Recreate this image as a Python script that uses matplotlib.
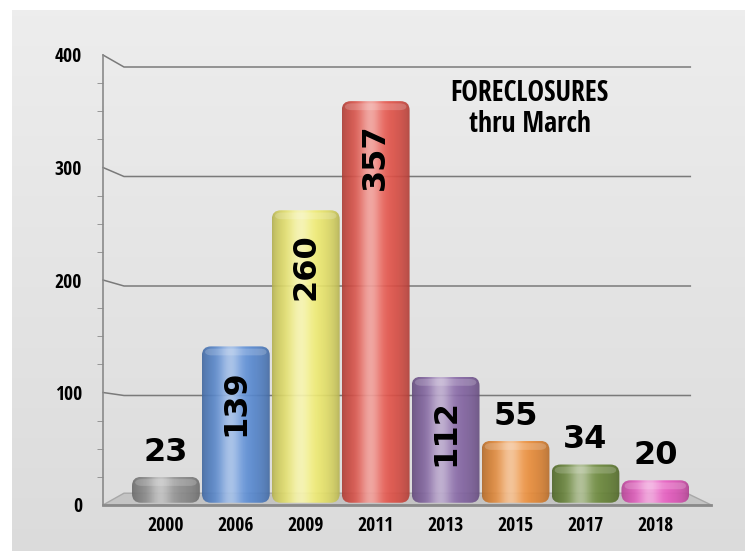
import numpy as np
import matplotlib
matplotlib.use("Agg")
import matplotlib.pyplot as plt
from matplotlib.patches import FancyBboxPatch, Polygon
from matplotlib.colors import to_rgb

years = ["2000", "2006", "2009", "2011", "2013", "2015", "2017", "2018"]
counts = [23, 139, 260, 357, 112, 55, 34, 20]
colors = ["#909090", "#5b8ed8", "#f2ee70", "#e8544a", "#8868a8", "#f0903a", "#6c8a3a", "#ec5cc4"]
inside = [False, True, True, True, True, False, False, False]
yticks = [0, 100, 200, 300, 400]
title = "FORECLOSURES\nthru March"

COND = ["Open Sans Condensed", "Roboto Condensed", "DejaVu Sans"]

W, H = 745, 551
fig = plt.figure(figsize=(W / 100, H / 100), dpi=100, facecolor="white")

# background panel with soft gradient
bg = fig.add_axes([12 / W, 0, 1 - 12 / W, (H - 10) / H])
bg.set_axis_off()
g = np.linspace(0.93, 0.86, 256)[:, None] * np.ones((1, 4))
bg.imshow(np.dstack([g, g, g]), aspect="auto", extent=[0, 1, 0, 1])
bg.set_xlim(0, 1)
bg.set_ylim(0, 1)

ax = fig.add_axes([103 / W, (H - 505) / H, 602 / W, 450 / H])
ax.set_facecolor("none")
ax.set_xlim(-0.9, 7.71)
ax.set_ylim(0, 400)
for s in ["top", "right", "bottom"]:
    ax.spines[s].set_visible(False)
ax.spines["left"].set_color("#8a8a8a")
ax.spines["left"].set_linewidth(1.2)

# back wall gridlines with short diagonal stub from the axis
for v in yticks[1:]:
    off = 12 * v / 400
    y1 = v - off / 1.125
    ax.plot([-0.9, -0.6, 7.5], [v, y1, y1], color="#7a7a7a", lw=1.1, zorder=1,
            clip_on=False)

# floor
floor = Polygon([[-0.9, 0], [-0.6, 10.5], [7.45, 10.5], [7.8, 0]], closed=True,
                facecolor="#c4c4c4", edgecolor="#a8a8a8", lw=1, zorder=1, clip_on=False)
ax.add_patch(floor)
ax.plot([-0.9, 7.8], [0, 0], color="#8a8a8a", lw=2, zorder=1, clip_on=False)

x = np.arange(len(years))
bars = ax.bar(x, counts, width=0.97, bottom=2, color="none", edgecolor="none", zorder=2)

prof = np.linspace(0, 1, 200)
dark = 0.72 + 0.28 * np.sin(np.pi * prof) ** 0.6
glow = 0.45 * np.exp(-((prof - 0.42) / 0.16) ** 2)
for rect, c in zip(bars, colors):
    bx, by = rect.get_x(), rect.get_y()
    bw, bh = rect.get_width(), rect.get_height()
    rgb = np.array(to_rgb(c))
    img = rgb[None, :] * dark[:, None]
    img = img + (1 - img) * glow[:, None]
    img = np.concatenate([np.clip(img, 0, 1), np.full((200, 1), 0.92)], axis=1)[None, :, :]
    clip = FancyBboxPatch((bx, by), bw, bh, boxstyle="round,pad=0,rounding_size=0.13",
                          mutation_aspect=62, transform=ax.transData,
                          facecolor="none", edgecolor="none")
    ax.add_patch(clip)
    im = ax.imshow(img, extent=[bx, bx + bw, by, by + bh], aspect="auto", zorder=3)
    im.set_clip_path(clip)
    # lighter rim at the cylinder top
    ax.add_patch(FancyBboxPatch((bx + 0.04, by + bh - 8), bw - 0.08, 6,
                                boxstyle="round,pad=0,rounding_size=0.1", mutation_aspect=40,
                                facecolor="white", alpha=0.18, edgecolor="none", zorder=4))

ax.set_xlim(-0.9, 7.71)
ax.set_ylim(0, 400)

for xi, v, ins in zip(x, counts, inside):
    if ins:
        ax.text(xi, v - 18, str(v), rotation=90, ha="center", va="top", fontsize=23,
                fontweight="bold", color="black", zorder=5)
    else:
        ax.text(xi, v + 10, str(v), ha="center", va="bottom", fontsize=23,
                fontweight="bold", color="black", zorder=5)

ax.set_yticks(yticks)
ax.set_yticklabels([str(t) for t in yticks], fontsize=14, fontweight="bold", family=COND)
ax.set_yticks(np.arange(0, 401, 25), minor=True)
ax.tick_params(axis="y", which="major", length=0, pad=15)
ax.tick_params(axis="y", which="minor", length=4, color="#8a8a8a", direction="out")
ax.set_xticks(x)
ax.set_xticklabels(years, fontsize=14, fontweight="bold", family=COND)
ax.tick_params(axis="x", length=0, pad=8)

ax.text(5.2, 352, title, ha="center", va="center", fontsize=20, fontweight="bold",
        family=COND, linespacing=1.05, zorder=5)

fig.savefig("out.png", dpi=100, facecolor="white")
